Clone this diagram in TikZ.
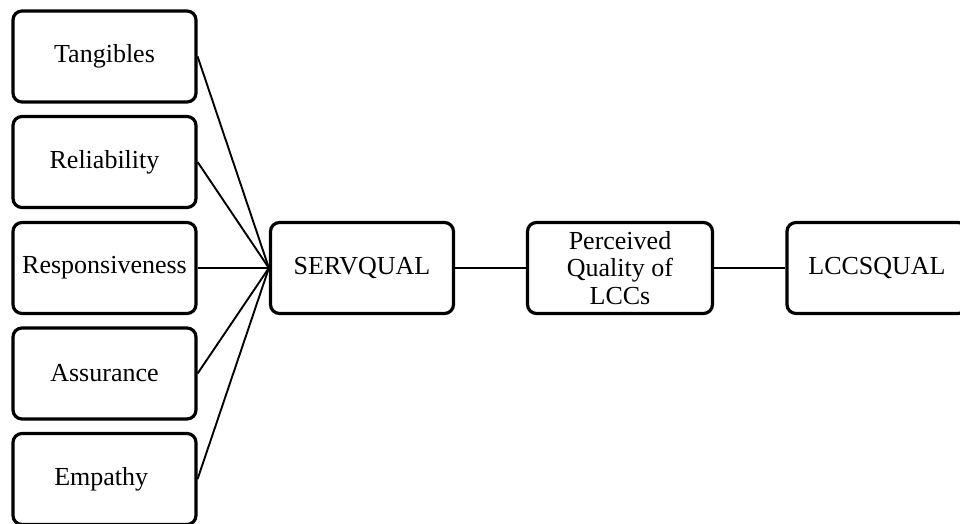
\documentclass[tikz,border=0pt]{standalone}
\usepackage{fontspec}
\setmainfont{Liberation Serif}
\usetikzlibrary{positioning}

\tikzset{
    factorbox/.style={draw, line width=1.6pt, rounded corners=4.5pt, minimum width=91.5pt, minimum height=45.5pt, inner sep=1pt, align=center, font=\fontsize{13}{13.8}\selectfont},
    link/.style={line width=0.95pt}
}

\begin{document}
\begin{tikzpicture}[x=0.5pt,y=-0.5pt]
    \useasboundingbox (0,0) rectangle (960,524);

    % Dimensions
    \foreach \y/\name/\label in {
        56.5/tan/Tangibles,
        162/rel/Reliability,
        268/res/Responsiveness,
        373.5/ass/Assurance,
        479/emp/Empathy
    } {
        \node[factorbox] (\name) at (104.5,\y) {\label};
    }

    % Models
    \node[factorbox] (servqual) at (362,268) {SERVQUAL};
    \node[factorbox, minimum width=92.5pt] (perceived) at (620,268) {Perceived\\Quality of\\LCCs};
    \node[factorbox, minimum width=90pt] (lccsqual) at (877,268) {LCCSQUAL};

    % Links
    \foreach \name in {tan,rel,res,ass,emp}
        \draw[link] (\name.east) -- (servqual.west);
    \draw[link] (servqual) -- (perceived);
    \draw[link] (perceived) -- (lccsqual);
\end{tikzpicture}
\end{document}
